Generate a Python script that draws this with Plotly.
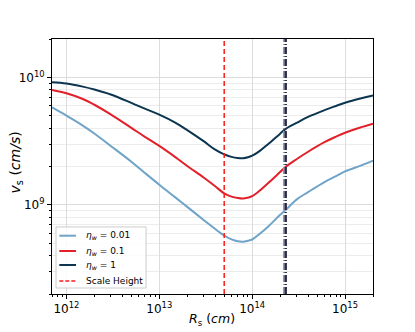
import plotly.graph_objects as go

# radius samples (cm)
r_s = [7e11, 1e12, 1.5e12, 2e12, 3e12, 5e12, 7e12, 1e13, 1.5e13, 2e13, 3e13, 4e13,
       5e13, 6e13, 7e13, 8e13, 9e13, 1e14, 1.2e14, 1.5e14, 2e14, 2.3e14, 3e14,
       4e14, 6e14, 8e14, 1e15, 1.5e15, 2e15]

# shock velocity (cm/s) for each wind efficiency
v_001 = [5.81e9, 5.01e9, 4.19e9, 3.63e9, 2.90e9, 2.18e9, 1.78e9, 1.44e9, 1.14e9,
         9.65e8, 7.62e8, 6.46e8, 5.75e8, 5.36e8, 5.18e8, 5.14e8, 5.23e8, 5.35e8,
         5.91e8, 6.81e8, 8.36e8, 9.14e8, 1.10e9, 1.26e9, 1.51e9, 1.68e9, 1.83e9,
         2.04e9, 2.22e9]
v_01 = [7.96e9, 7.50e9, 6.77e9, 6.10e9, 5.13e9, 4.02e9, 3.42e9, 2.90e9, 2.36e9,
        2.02e9, 1.64e9, 1.40e9, 1.23e9, 1.16e9, 1.13e9, 1.12e9, 1.14e9, 1.17e9,
        1.29e9, 1.49e9, 1.81e9, 1.99e9, 2.28e9, 2.61e9, 3.10e9, 3.43e9, 3.68e9,
        4.07e9, 4.34e9]
v_1 = [9.16e9, 8.95e9, 8.46e9, 8.03e9, 7.34e9, 6.31e9, 5.68e9, 5.10e9, 4.40e9,
       3.86e9, 3.16e9, 2.71e9, 2.49e9, 2.38e9, 2.33e9, 2.32e9, 2.36e9, 2.43e9,
       2.64e9, 3.02e9, 3.62e9, 3.95e9, 4.39e9, 4.90e9, 5.53e9, 5.97e9, 6.32e9,
       6.86e9, 7.21e9]

labels = ["<i>η<sub>w</sub></i> = 0.01", "<i>η<sub>w</sub></i> = 0.1", "<i>η<sub>w</sub></i> = 1"]
colors = ["#6fa3c8", "#e2202a", "#0c3550"]

scale_height = 5e13
breakout_r = [2.2e14, 2.3e14, 2.3e14]

y_range = [2e8, 2e10]
sh_color = "#ff1a1a"
font = "DejaVu Sans"

fig = go.Figure()
for v, name, c in zip([v_001, v_01, v_1], labels, colors):
    fig.add_trace(go.Scatter(x=r_s, y=v, mode="lines", name=name, showlegend=False,
                             line=dict(color=c, width=2, shape="spline", smoothing=1.0)))

fig.add_trace(go.Scatter(x=[scale_height, scale_height], y=y_range, mode="lines",
                         name="Scale Height", showlegend=False,
                         line=dict(color=sh_color, width=1.5, dash="5px,3px")))

for r, c in zip(breakout_r, colors):
    fig.add_trace(go.Scatter(x=[r, r], y=y_range, mode="lines", showlegend=False,
                             line=dict(color=c, width=2, dash="7px,2px,1px,2px")))

# legend drawn by hand (matplotlib-style compact box)
fig.add_shape(type="rect", xref="paper", yref="paper", x0=0.0125, x1=0.293, y0=0.0235, y1=0.263,
              line=dict(color="#cccccc", width=1), fillcolor="rgba(255,255,255,0.85)", layer="above")
leg_y = [0.2286, 0.1686, 0.1137, 0.051]
leg_items = list(zip(labels, colors, ["solid"] * 3)) + [("Scale Height", sh_color, "4px,2px")]
for (txt, c, d), yy in zip(leg_items, leg_y):
    fig.add_shape(type="line", xref="paper", yref="paper", x0=0.0228, x1=0.0748, y0=yy, y1=yy,
                  line=dict(color=c, width=2 if d == "solid" else 1.5, dash=d), layer="above")
    fig.add_annotation(text=txt, xref="paper", yref="paper", x=0.1, y=yy, xanchor="left",
                       yanchor="middle", showarrow=False, font=dict(family=font, size=9, color="black"))

# axis titles placed as annotations so their position is exact
fig.add_annotation(text="<i>R</i><sub>s</sub> (<i>cm</i>)", xref="paper", yref="paper",
                   x=0.498, y=-0.1, xanchor="center", yanchor="middle", showarrow=False,
                   font=dict(family=font, size=12.5, color="black"))
fig.add_annotation(text="<i>v</i><sub>s</sub> (<i>cm/s</i>)", xref="paper", yref="paper",
                   x=-0.112, y=0.516, xanchor="center", yanchor="middle", showarrow=False,
                   textangle=-90, font=dict(family=font, size=14, color="black"))

axis_common = dict(
    type="log", showline=True, linecolor="black", linewidth=1, mirror=True,
    ticks="outside", ticklen=4, tickcolor="black", zeroline=False, automargin=False,
    gridcolor="#dcdcdc", gridwidth=1,
    tickfont=dict(family=font, size=12, color="black"),
)

fig.update_xaxes(
    range=[11.845, 15.301],
    tickvals=[1e12, 1e13, 1e14, 1e15],
    ticktext=["10<sup>12</sup>", "10<sup>13</sup>", "10<sup>14</sup>", "10<sup>15</sup>"],
    minor=dict(ticks="outside", ticklen=2, tickcolor="black", dtick="D1", showgrid=False),
    **axis_common,
)
fig.update_yaxes(
    range=[8.301, 10.301],
    tickvals=[1e9, 1e10],
    ticktext=["10<sup>9</sup>", "10<sup>10</sup>"],
    minor=dict(ticks="outside", ticklen=2, tickcolor="black", dtick="D1",
               showgrid=True, gridcolor="#ececec"),
    **axis_common,
)

# page body adds an 8px margin, so the figure is shifted by 8px
fig.update_layout(
    width=399, height=324,
    margin=dict(l=44, r=34, t=31, b=38),
    paper_bgcolor="white", plot_bgcolor="white",
    font=dict(family=font, color="black"),
    showlegend=False,
)

fig.write_html("out.html")
